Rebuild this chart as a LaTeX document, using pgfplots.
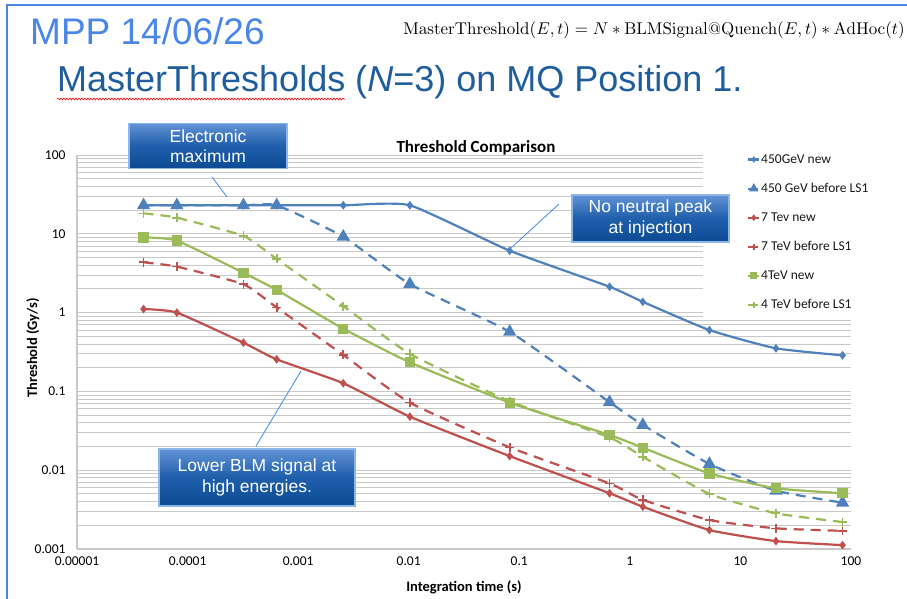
\documentclass[border=0pt]{standalone}
\usepackage[no-math]{fontspec}
\setmainfont{Liberation Sans}
\newfontfamily\calibri{Carlito}
\usepackage{pgfplots}
\pgfplotsset{compat=1.18}
\usepackage{pgfplotstable}
\usetikzlibrary{decorations.pathmorphing}

\definecolor{xlblue}{HTML}{4F81BD}
\definecolor{xlred}{HTML}{C0504D}
\definecolor{xlgreen}{HTML}{9BBB59}
\definecolor{slideblue}{HTML}{4A86E8}
\definecolor{titleblue}{HTML}{1F5E9E}
\definecolor{boxtop}{HTML}{6193D6}
\definecolor{boxmid}{HTML}{1F5EAA}
\definecolor{boxbot}{HTML}{0C4B93}
\definecolor{boxedge}{HTML}{8DB6EA}
\definecolor{pointer}{HTML}{4D94E8}
\definecolor{gridgray}{HTML}{C8C8C8}

% Threshold (Gy/s) versus integration time (s) of the BLM running sums
\pgfplotstableread{
t          g450new  g450old  t7new    t7old    t4new   t4old
4e-5       23       23       1.11     4.35     9.0     18.2
8e-5       23       23       1.00     3.83     8.2     16.0
3.2e-4     23       23       0.415    2.29     3.2     9.4
6.4e-4     23       23       0.255    1.16     1.94    4.8
2.56e-3    23       9.2      0.127    0.29     0.625   1.21
1.024e-2   23       2.3      0.0478   0.072    0.234   0.30
8.192e-2   6.1      0.57     0.0151   0.0195   0.072   0.075
0.65536    2.13     0.073    0.0051   0.0068   0.028   0.026
1.31072    1.37     0.0375   0.00344  0.0042   0.0193  0.0148
5.24288    0.60     0.012    0.00174  0.00233  0.0091  0.0050
20.97152   0.352    0.0055   0.00126  0.00183  0.0059  0.00284
83.88608   0.287    0.00387  0.00112  0.0017   0.0051  0.0022
}\thresholds

\tikzset{
  callout/.style={draw=boxedge, line width=1.4pt, top color=boxtop, bottom color=boxbot, middle color=boxmid,
    text=white, align=center, inner sep=0pt, font=\fontsize{17.5}{20.5}\selectfont},
  pointerline/.style={pointer, line width=0.9pt}
}

\begin{document}
\begin{tikzpicture}
\path[use as bounding box, fill=white] (0,0) rectangle (907pt,598pt);
\clip (0,0) rectangle (907pt,598pt);

\begin{scope}[x=1pt,y=1pt]
  % slide frame
  \draw[slideblue, line width=2pt] (7,-10) -- (7,593) -- (920,593);
  % slide header
  \node[anchor=base west, inner sep=0pt, text=slideblue, font=\fontsize{37}{40}\selectfont] at (30,553) {MPP 14/06/26};
  \node[anchor=base east, inner sep=0pt, scale=1.7] at (905,563)
    {$\mathrm{MasterThreshold}(E,t)=N*\mathrm{BLMSignal@Quench}(E,t)*\mathrm{AdHoc}(t)$};
  \node[anchor=base west, inner sep=0pt, text=titleblue, font=\fontsize{36}{40}\selectfont] at (57,506)
    {MasterThresholds (\textit{N}=3) on MQ Position 1.};
  \draw[red, line width=0.6pt, decorate, decoration={snake, segment length=3pt, amplitude=0.9pt}] (57,499) -- (345,499);
  % chart titles
  \node[anchor=base, inner sep=0pt, font=\calibri\bfseries\fontsize{17}{20}\selectfont] at (476,445) {Threshold Comparison};
  \node[anchor=base, inner sep=0pt, font=\calibri\bfseries\fontsize{14.5}{17}\selectfont] at (464,7) {Integration time (s)};
  \node[rotate=90, inner sep=0pt, font=\calibri\bfseries\fontsize{14.5}{17}\selectfont] at (33,250) {Threshold (Gy/s)};
\end{scope}

\begin{axis}[
  at={(77pt,49pt)}, anchor=south west,
  scale only axis, width=774pt, height=394pt,
  xmode=log, ymode=log,
  xmin=1e-5, xmax=100, ymin=1e-3, ymax=100,
  xtick={1e-5,1e-4,1e-3,1e-2,1e-1,1,10,100},
  xticklabels={0.00001,0.0001,0.001,0.01,0.1,1,10,100},
  ytick={1e-3,1e-2,1e-1,1,10,100},
  yticklabels={0.001,0.01,0.1,1,10,100},
  ticklabel style={font=\calibri\fontsize{13.5}{16}\selectfont, text=black},
  xticklabel style={yshift=-4pt},
  yticklabel style={xshift=-8pt},
  major tick length=0pt, minor tick length=0pt,
  ymajorgrids, yminorgrids,
  major grid style={gridgray, line width=0.9pt},
  minor grid style={gridgray, line width=0.9pt},
  axis x line*=bottom, axis y line*=left,
  axis line style={gridgray, line width=1.2pt},
  clip=false,
  legend cell align=left,
  legend image code/.code={
    \draw[#1, mark=none] (0pt,0pt) -- (11pt,0pt);
    \draw[#1, only marks, every mark/.append style={scale=0.6}] plot coordinates {(5.5pt,0pt)};
  },
  legend style={at={(0.8088,1.0203)}, anchor=north west, draw=none, fill=white,
    inner xsep=44pt, inner ysep=5pt, row sep=14.5pt,
    font=\calibri\fontsize{13.5}{16}\selectfont, text=black!90,
    nodes={inner sep=0.8pt, text height=10pt, text depth=3pt}},
  every axis plot/.append style={line width=2.2pt, smooth, tension=0.3},
]
\addplot[xlblue, mark=diamond*, mark size=2.6pt] table[x=t, y=g450new] {\thresholds};
\addlegendentry{450GeV new}
\addplot[xlblue, dash pattern=on 10pt off 7pt, mark=triangle*, mark size=5.5pt, mark options={solid}] table[x=t, y=g450old] {\thresholds};
\addlegendentry{450 GeV before LS1}
\addplot[xlred, mark=diamond*, mark size=2.6pt] table[x=t, y=t7new] {\thresholds};
\addlegendentry{7 Tev new}
\addplot[xlred, dash pattern=on 10pt off 7pt, mark=+, mark size=4.5pt, mark options={solid, line width=1.6pt}] table[x=t, y=t7old] {\thresholds};
\addlegendentry{7 TeV before LS1}
\addplot[xlgreen, mark=square*, mark size=4pt] table[x=t, y=t4new] {\thresholds};
\addlegendentry{4TeV new}
\addplot[xlgreen, dash pattern=on 10pt off 7pt, mark=+, mark size=4.5pt, mark options={solid, line width=1.6pt}] table[x=t, y=t4old] {\thresholds};
\addlegendentry{4 TeV before LS1}
\end{axis}

\begin{scope}[x=1pt,y=1pt]
  % annotation callouts
  \draw[pointerline] (212,421) -- (227,401);
  \node[callout, minimum width=158pt, minimum height=45pt] at (208,452) {Electronic\\maximum};
  \draw[pointerline] (559,394) -- (511,350);
  \node[callout, minimum width=157pt, minimum height=47pt] at (650.5,379.5) {No neutral peak\\at injection};
  \draw[pointerline] (256,152) -- (301,227);
  \node[callout, minimum width=196pt, minimum height=57pt] at (257,120.5) {Lower BLM signal at\\high energies.};
\end{scope}
\end{tikzpicture}
\end{document}
